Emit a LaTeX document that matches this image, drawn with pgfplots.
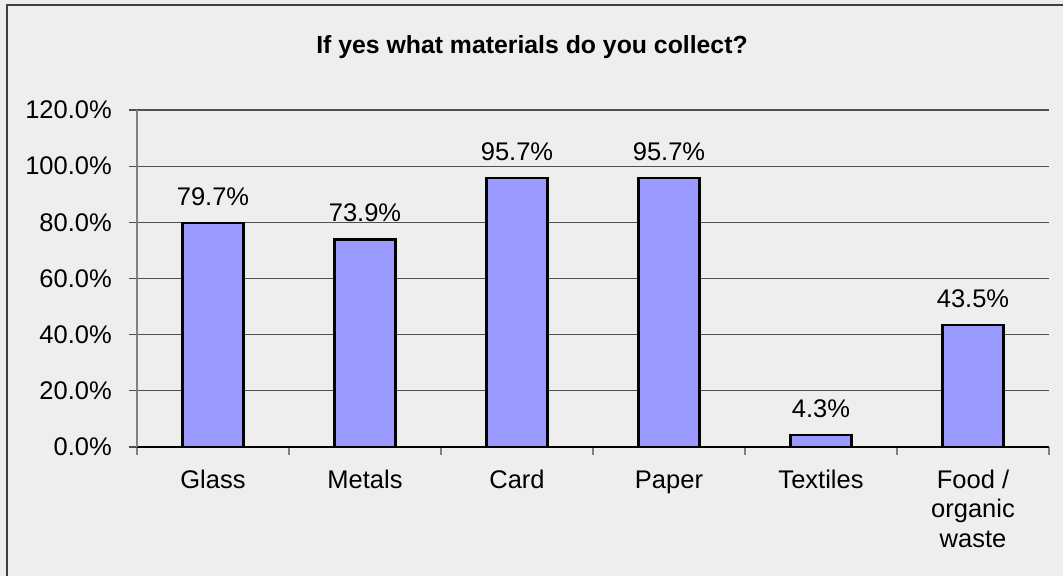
\documentclass[border=0pt]{standalone}
\usepackage{fontspec}
\setmainfont{Liberation Sans}
\usepackage{pgfplots}
\pgfplotsset{compat=1.18}
\definecolor{bg}{HTML}{EEEEEE}
\definecolor{barfill}{HTML}{9999FF}
\definecolor{gridc}{HTML}{505050}
\definecolor{framec}{HTML}{404040}
\begin{document}
\begin{tikzpicture}
\fill[bg] (-137bp,-129bp) rectangle (926bp,447bp);
\path[use as bounding box] (-137bp,-129bp) rectangle (926bp,447bp);
\draw[framec, line width=1.3bp] (-130bp,-140bp) -- (-130bp,442bp) -- (940bp,442bp);
\node[font=\bfseries\fontsize{24.8bp}{28bp}\selectfont, anchor=base] at (395bp,393bp) {If yes what materials do you collect?};
\begin{axis}[
  at={(0,0)}, anchor=south west,
  scale only axis, width=912bp, height=337bp,
  xmin=-0.5, xmax=5.5, ymin=0, ymax=120,
  axis x line*=bottom, axis y line*=left,
  x axis line style={black, line width=1.3bp, -},
  y axis line style={gray, line width=1.1bp, -},
  ytick={0,20,...,120},
  xtick={0,...,5},
  xticklabels={Glass, Metals, Card, Paper, Textiles, {\begin{tabular}[t]{@{}c@{}}Food /\\organic\\waste\end{tabular}}},
  minor xtick={-0.5,0.5,...,5.5},
  tick align=outside,
  x tick style={draw=none},
  minor x tick style={draw=gray, line width=1.1bp},
  minor tick length=8bp,
  major tick length=8bp,
  y tick style={gridc, line width=1.1bp},
  ymajorgrids,
  grid style={gridc, line width=1.1bp},
  /pgf/number format/assume math mode=true,
  every tick label/.append style={font=\fontsize{25.5bp}{29.5bp}\selectfont, inner sep=0pt},
  yticklabel={\pgfmathprintnumber[fixed,fixed zerofill,precision=1]{\tick}\%},
  yticklabel style={anchor=east, xshift=-17bp},
  xticklabel style={anchor=base, yshift=-33bp},
  ybar, bar width=61bp,
  nodes near coords={\pgfmathprintnumber[fixed,fixed zerofill,precision=1,assume math mode=true]{\pgfplotspointmeta}\%},
  every node near coord/.append style={anchor=base, yshift=17.5bp, font=\fontsize{25.5bp}{29.5bp}\selectfont, inner sep=0pt},
]
\addplot[fill=barfill, draw=black, line width=2.2bp] coordinates {
  (0,79.7) (1,73.9) (2,95.7) (3,95.7) (4,4.3) (5,43.5)
};
\end{axis}
\end{tikzpicture}
\end{document}
